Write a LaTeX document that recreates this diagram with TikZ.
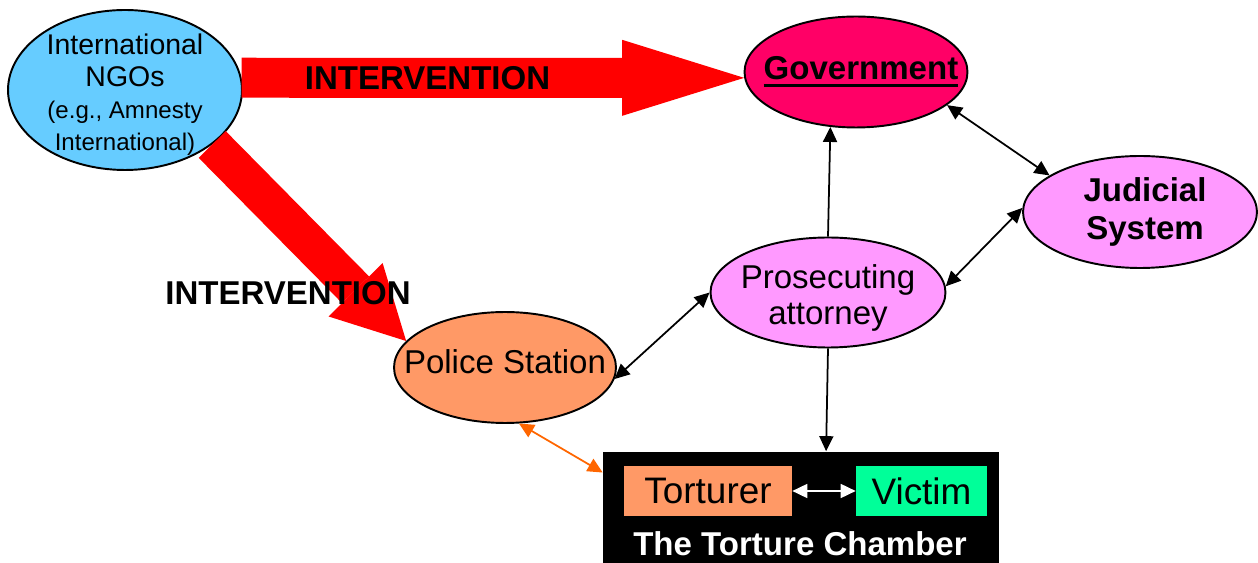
\documentclass[tikz,border=0pt]{standalone}
\usepackage{fontspec}
\setmainfont{Liberation Sans}
\usetikzlibrary{arrows.meta}
\usetikzlibrary{shapes.geometric}
\definecolor{ngoblue}{HTML}{66CCFF}
\definecolor{govred}{HTML}{FF0066}
\definecolor{lawpink}{HTML}{FF99FF}
\definecolor{policeorange}{HTML}{FF9966}
\definecolor{victimgreen}{HTML}{00FF99}
\definecolor{linkorange}{HTML}{FF6600}
\tikzset{bubble/.style = {ellipse, draw, line width = 1.1pt, fill = #1, inner sep = 0}}
\tikzset{bigarrow/.style = {draw = red, line width = 0.8cm,
                            -{Triangle[length = #1, width = 1.52cm, line width = 0pt]}}}
\tikzset{link/.style = {draw = black, line width = 1pt,
                        >={Triangle[length = 0.3cm, width = 0.28cm]}}}
\tikzset{boldtext/.style = {font = \fontsize{18.8}{21.6}\selectfont\bfseries}}
\tikzset{plaintext/.style = {font = \fontsize{18.8}{21}\selectfont}}
\newcommand{\thickul}[1]{\setbox0=\hbox{#1}\rlap{\rule[-4.5pt]{\wd0}{1.7pt}}\box0}
\newcommand{\ngosmall}{\fontsize{13.7}{16.2}\selectfont}

\begin{document}
\begin{tikzpicture}[x=0.02cm, y=-0.02cm]
    \useasboundingbox (0, 0) rectangle (1258, 563);
    % ellipses
    \node [bubble=ngoblue, minimum width=4.68cm, minimum height=3.2cm,
           label={[align=center, yshift=-0.1cm, font=\fontsize{16.2}{18.2}\selectfont]center:International\\NGOs\\\ngosmall (e.g., Amnesty\\\ngosmall International)}] (ngo) at (125, 90) {};
    \node [bubble=govred, minimum width=4.46cm, minimum height=2.22cm,
           label={[boldtext, xshift=0.1cm]center:\thickul{Government}}] (gov) at (856, 72) {};
    \node [bubble=lawpink, minimum width=4.68cm, minimum height=2.24cm,
           label={[boldtext, align=center, xshift=0.1cm]center:Judicial\\System}] (jud) at (1140, 212) {};
    \node [bubble=lawpink, minimum width=4.7cm, minimum height=2.2cm,
           label={[plaintext, align=center, yshift=-0.11cm]center:Prosecuting\\attorney}] (pros) at (828, 292.5) {};
    \node [bubble=policeorange, minimum width=4.44cm, minimum height=2.22cm,
           label={[plaintext, yshift=0.11cm]center:Police Station}] (police) at (505, 367.5) {};
    % the chamber
    \node [fill=black, inner sep=0, minimum width=7.92cm, minimum height=2.24cm] (chamber) at (801, 507.5) {};
    \node [fill=policeorange, inner sep=0, minimum width=3.36cm, minimum height=1cm,
           font=\fontsize{21}{24}\selectfont] (torturer) at (708, 491) {Torturer};
    \node [fill=victimgreen, inner sep=0, minimum width=2.62cm, minimum height=1cm,
           font=\fontsize{21}{24}\selectfont] (victim) at (921.5, 491) {Victim};
    \node [boldtext, text=white] (chambertitle) at (800, 544) {The Torture Chamber};
    % interventions
    \draw [bigarrow=2.44cm] (ngo.6) -- (gov.183) node [pos=0.37, boldtext] (int1) {INTERVENTION};
    \draw [bigarrow=1.44cm, line width=0.76cm] (ngo.328) -- (police.165);
    \node [boldtext] (int2) at (288, 293) {INTERVENTION};
    % links
    \draw [link, ->] (pros.north) -- (gov.245);
    \draw [link, <->] (gov.340) -- (jud.158);
    \draw [link, <->] (jud.178) -- (pros.3);
    \draw [link, <->] (pros.west) -- (police.354);
    \draw [link, ->] (pros.south) -- (chamber.66);
    \draw [link, draw=linkorange, <->] (police.284) -- (chamber.170);
    \draw [link, draw=white, <->] (torturer) -- (victim);
\end{tikzpicture}
\end{document}
